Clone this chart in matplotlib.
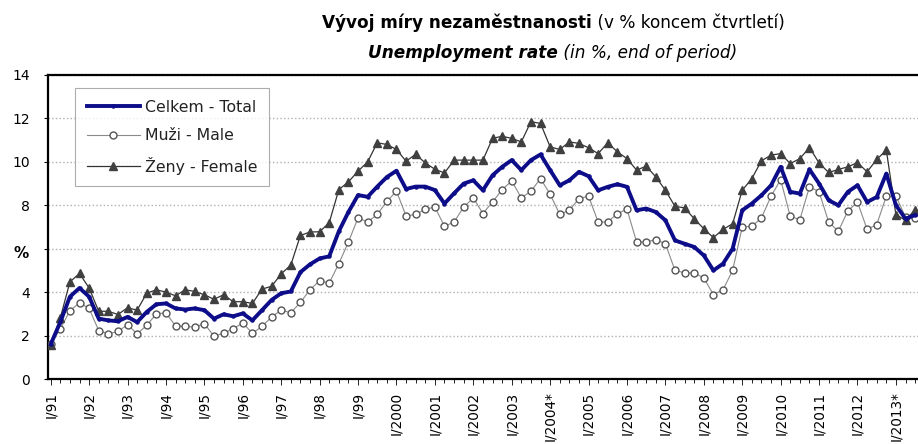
import matplotlib
matplotlib.use("Agg")
import matplotlib.pyplot as plt
from matplotlib.offsetbox import TextArea, HPacker, AnchoredOffsetbox
import numpy as np

plt.rcParams['font.family'] = ['DejaVu Sans']

# quarterly, I/1991 ... III/2013
total = [1.6, 2.62, 3.79, 4.19, 3.79, 2.78, 2.7, 2.66, 2.86, 2.62,
         3.09, 3.44, 3.48, 3.25, 3.2, 3.25, 3.17, 2.78, 2.98, 2.89,
         3.02, 2.7, 3.17, 3.64, 3.95, 4.03, 4.92, 5.28, 5.55, 5.65,
         6.8, 7.69, 8.47, 8.39, 8.86, 9.3, 9.59, 8.75, 8.86, 8.86,
         8.7, 8.08, 8.55, 9.0, 9.15, 8.69, 9.38, 9.77, 10.08, 9.62,
         10.08, 10.34, 9.62, 8.92, 9.15, 9.54, 9.34, 8.69, 8.85, 8.97,
         8.85, 7.77, 7.85, 7.69, 7.31, 6.38, 6.23, 6.08, 5.69, 5.0,
         5.31, 6.0, 7.77, 8.08, 8.46, 8.92, 9.77, 8.62, 8.54, 9.65,
         9.0, 8.23, 8.0, 8.62, 8.92, 8.15, 8.38, 9.46, 8.0, 7.38, 7.55]
male = [1.6, 2.31, 3.14, 3.51, 3.25, 2.23, 2.08, 2.19, 2.5, 2.08,
        2.47, 3.0, 3.05, 2.44, 2.42, 2.39, 2.55, 1.97, 2.11, 2.31,
        2.58, 2.11, 2.42, 2.86, 3.17, 3.05, 3.53, 4.11, 4.53, 4.42,
        5.31, 6.31, 7.42, 7.23, 7.58, 8.18, 8.65, 7.51, 7.58, 7.82,
        7.92, 7.03, 7.23, 7.92, 8.34, 7.62, 8.15, 8.72, 9.12, 8.34,
        8.65, 9.23, 8.51, 7.58, 7.77, 8.31, 8.42, 7.23, 7.23, 7.62,
        7.82, 6.31, 6.31, 6.42, 6.23, 5.0, 4.89, 4.88, 4.65, 3.89,
        4.11, 5.0, 7.0, 7.03, 7.42, 8.42, 9.18, 7.49, 7.34, 8.85,
        8.62, 7.23, 6.8, 7.74, 8.15, 6.89, 7.11, 8.42, 8.42, 7.46, 7.43]
female = [1.56, 2.81, 4.47, 4.86, 4.19, 3.12, 3.12, 2.97, 3.28, 3.17,
          3.95, 4.11, 4.0, 3.83, 4.11, 4.03, 3.88, 3.67, 3.88, 3.56,
          3.56, 3.48, 4.14, 4.27, 4.84, 5.25, 6.61, 6.77, 6.78, 7.2,
          8.72, 9.08, 9.57, 10.0, 10.88, 10.8, 10.57, 10.03, 10.35, 9.95,
          9.66, 9.49, 10.08, 10.08, 10.08, 10.08, 11.08, 11.18, 11.08, 10.92,
          11.85, 11.77, 10.69, 10.57, 10.92, 10.85, 10.65, 10.38, 10.88, 10.46,
          10.15, 9.62, 9.8, 9.31, 8.69, 7.95, 7.88, 7.38, 6.92, 6.51,
          6.89, 7.15, 8.69, 9.23, 10.05, 10.31, 10.38, 9.92, 10.15, 10.66,
          9.95, 9.51, 9.65, 9.77, 9.97, 9.54, 10.11, 10.54, 7.57, 7.31, 7.8]
year_labels = ["I/91", "I/92", "I/93", "I/94", "I/95", "I/96", "I/97", "I/98",
               "I/99", "I/2000", "I/2001", "I/2002", "I/2003", "I/2004*",
               "I/2005", "I/2006", "I/2007", "I/2008", "I/2009", "I/2010",
               "I/2011", "I/2012", "I/2013*"]
y_ticks = [0, 2, 4, 6, 8, 10, 12, 14]
y_labels = ["0", "2", "4", "", "8", "10", "12", "14"]  # '%' sits where 6 would be
series_names = ["Celkem - Total", "Muži - Male", "Ženy - Female"]

x = np.arange(len(total))

fig = plt.figure(figsize=(9.18, 4.44), dpi=100)
ax = fig.add_axes([48/918, 65/444, 1 - 48/918, (379-75)/444])

ax.plot(x, total, color='#0d0d8a', lw=2.8, marker='o', ms=2.2, zorder=4,
        label=series_names[0])
ax.plot(x, male, color='#8a8a8a', lw=0.8, marker='o', ms=5, mfc='white',
        mec='#555555', mew=1.0, zorder=3, label=series_names[1])
ax.plot(x, female, color='#333333', lw=0.9, marker='^', ms=6.3, mfc='#404040',
        mec='#404040', zorder=3, label=series_names[2])

ax.set_ylim(0, 14)
ax.set_xlim(-0.28, 90.3)
ax.set_yticks(y_ticks)
ax.set_yticklabels(y_labels)
ax.tick_params(axis='y', labelsize=10, length=3, width=0.8, pad=10)
ax.grid(axis='y', color='#b0b0b0', ls=':', lw=1.0)
ax.set_axisbelow(True)

ax.set_xticks(np.arange(0, 89, 4))
ax.set_xticklabels(year_labels, rotation=90, fontsize=9.8)
ax.set_xticks(x, minor=True)
ax.tick_params(axis='x', which='major', length=4, width=0.6, pad=5)
ax.tick_params(axis='x', which='minor', length=3, width=0.6)

for s in ['top', 'left', 'bottom']:
    ax.spines[s].set_linewidth(1.6)
    ax.spines[s].set_color('black')
ax.spines['right'].set_visible(False)

fig.text(21/918, 1 - 253/444, '%', fontsize=11, fontweight='bold',
         ha='center', va='center')

leg = ax.legend(loc='upper left', bbox_to_anchor=(0.031, 0.957),
                fontsize=11.3, frameon=True, fancybox=False, handlelength=3.4,
                labelspacing=0.85, borderpad=0.75, handletextpad=0.3,
                borderaxespad=0)
leg.get_frame().set_edgecolor('#999999')
leg.get_frame().set_linewidth(0.8)
for t in leg.get_texts():
    t.set_color('#222222')

def title_line(parts, y):
    boxes = [TextArea(txt, textprops=dict(fontsize=12.2, **props)) for txt, props in parts]
    pack = HPacker(children=boxes, align='baseline', pad=0, sep=0)
    ab = AnchoredOffsetbox(loc='center', child=pack, frameon=False,
                           bbox_to_anchor=(553/918, 1 - y/444),
                           bbox_transform=fig.transFigure, borderpad=0, pad=0)
    fig.add_artist(ab)

title_line([("Vývoj míry nezaměstnanosti", dict(fontweight='bold')),
            (" (v % koncem čtvrtletí)", dict())], 23)
title_line([("Unemployment rate", dict(fontweight='bold', fontstyle='italic')),
            (" (in %, end of period)", dict(fontstyle='italic'))], 53)

fig.savefig('out.png', dpi=100)
